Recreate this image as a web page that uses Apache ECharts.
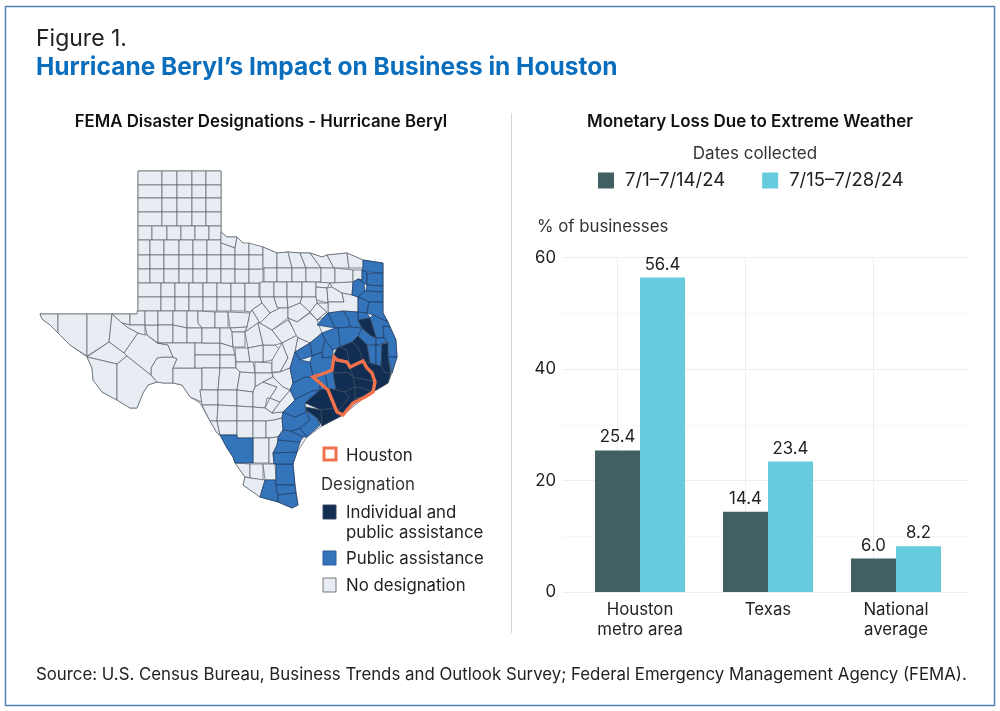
<!DOCTYPE html>
<html><head><meta charset="utf-8">
<style>html,body{margin:0;padding:0;background:#fff}#c{width:1000px;height:711px}</style>
<script src="https://cdn.jsdelivr.net/npm/echarts@6/dist/echarts.min.js"></script>
</head><body><div id="c"></div>
<script>
const FONT = 'Inter';
const LABEL = 16.8;
// ---------- bar chart data
const categories = ['Houston\nmetro area', 'Texas', 'National\naverage'];
const seriesNames = ['7/1–7/14/24', '7/15–7/28/24'];
const earlyJuly = [25.4, 14.4, 6.0];
const lateJuly = [56.4, 23.4, 8.2];
const yTicks = [0, 60, 20];
// ---------- map designation: county outlines (map units)
function cells(xs, ys) {
  const out = [];
  for (let j = 0; j < ys.length - 1; j++) for (let i = 0; i < xs.length - 1; i++)
    out.push(`${xs[i]},${ys[j]} ${xs[i+1]},${ys[j]} ${xs[i+1]},${ys[j+1]} ${xs[i]},${ys[j+1]}`);
  return out;
}
const stateOutline = '138,171 221,171 221,232 227,237 237,237 243,243 263,247 277,253 288,252 300,253 310,253 322,257 327,255 347,253 363,260 383,263 383,313 388,322 396,340 397,357 392,373 388,383 373,392 365,397 343,415 322,426 307,437 297,452 293,464 295,485 298,505 292,508 278,502 260,497 243,485 245,477 235,463 233,457 227,448 220,435 217,433 210,421 200,403 190,397 182,385 173,383 163,383 157,382 148,385 143,393 137,408 130,408 117,400 102,392 93,380 92,368 87,357 70,345 58,333 50,325 42,319 40,314 137,314 138,311';
const noDesignation = [
  ...cells([138,162,177,192,206,221],[171,185,198,212,226]),
  ...cells([138,152,167,181,195,209,221],[226,240]),
  ...cells([138,150,164,179,193,207,221],[240,255,269,283]),
  ...cells([138,161,175,189,203,217,231,245,259],[283,297]),
  ...cells([138,161,175,189,203,217,231,245],[297,311]),
  // Red River counties
  '221,232 227,237 237,237 235,248 221,243','221,243 235,248 235,255 221,255','221,255 235,255 235,269 221,269',
  '221,269 235,269 235,283 221,283','235,269 249,269 249,283 235,283','249,269 263,269 263,283 249,283',
  '237,237 243,243 249,243 249,255 235,255 235,248','249,243 263,247 263,255 249,255',
  '235,255 249,255 249,269 235,269','249,255 263,255 263,269 249,269',
  '263,247 277,253 277,268 263,268','277,253 288,252 292,268 277,268','288,252 300,253 306,268 292,268',
  '300,253 310,253 321,268 306,268','310,253 322,257 327,255 334,268 321,268','327,255 347,253 349,268 334,268','347,253 363,260 363,268 349,268',
  ...cells([264,277,292,306,321],[268,282]),
  ...cells([260,274,287,302,316],[282,297]),
  '321,268 335,268 335,283 321,283','335,268 353,270 353,282 335,283','353,270 362,270 362,280 358,279 353,282',
  '316,282 330,283 327,288 316,287','316,287 327,288 328,303 316,300','327,288 332,287 342,293 344,302 328,302',
  '330,283 353,282 352,295 342,293 332,287','344,302 342,293 352,295 358,297 358,312 343,311 328,313 328,302',
  // West Texas
  '40,314 58,314 58,333 57,333 50,325 42,319','58,314 87,314 87,356 70,345 58,333','87,314 112,314 109,342 87,356',
  '112,314 127,327 138,333 124,353 109,342','109,342 124,353 127,356 117,364 87,357','87,357 117,364 117,400 102,392 93,380 92,368',
  '117,364 127,356 151,375 157,382 148,385 143,393 137,408 130,408 117,400',
  '151,368 157,358 163,357 173,357 177,359 173,368 173,383 163,383 157,382 151,375',
  '138,333 147,335 157,343 168,345 173,357 163,357 157,358 151,368 151,375 127,356 124,353',
  '173,368 202,368 202,402 190,397 182,385 173,383','112,314 130,314 130,325 122,323','130,314 137,314 137,311 145,311 145,325 130,325',
  '122,323 130,325 145,325 145,335 138,333 127,327','145,325 158,325 158,343 147,335',
  '145,311 158,311 158,325 145,325','158,311 173,311 173,325 158,325','173,311 187,311 187,328 173,325',
  '187,311 198,311 198,323 202,328 187,328','198,311 215,312 215,328 202,328 198,323',
  '158,325 173,325 173,343 158,343','173,325 187,328 187,343 173,343','187,328 202,328 202,343 187,343',
  '158,343 195,343 195,368 173,368 177,359 173,357 168,345',
  '195,343 220,343 220,355 195,355','195,355 220,355 220,368 195,368',
  // Central Texas
  '215,312 228,312 228,328 215,328','202,328 220,328 220,343 202,343',
  '228,312 250,313 247,327 230,328','230,328 247,327 245,332 232,332','250,313 252,310 260,323 258,323 245,332 247,327',
  '220,328 230,328 232,332 233,347 220,343','220,343 233,347 235,355 220,355','220,355 235,355 236,368 220,368',
  '232,332 245,332 245,347 233,347','235,348 248,348 250,362 236,362','245,332 258,323 262,340 263,345 248,348',
  '263,345 275,345 280,350 272,360 263,362','248,348 263,345 263,362 250,362','236,362 253,362 255,373 240,372 236,368',
  '255,362 272,363 272,373 255,373','272,360 282,343 288,358 280,372 272,372','282,343 297,335 298,337 295,352 290,368 280,372 288,358',
  '258,323 260,323 272,330 282,343 275,345 263,345 262,340','272,373 280,372 290,368 293,383 290,390 283,387 273,377',
  '255,373 272,373 273,377 263,382 255,387','297,337 310,343 295,352 298,337',
  '245,297 260,297 262,303 252,310 250,312 245,311','260,297 274,297 277,307 280,308 270,313 262,303',
  '274,297 287,297 288,308 280,308 277,307','287,297 302,297 300,303 288,308','302,297 316,297 317,303 310,312 300,303',
  '252,310 262,303 270,313 260,323','270,313 280,308 288,308 288,318 272,330 260,323','288,308 300,303 310,312 297,322 288,318',
  '272,330 288,320 297,335 282,343','288,318 297,322 310,313 317,320 322,333 310,343 297,337',
  '310,312 317,303 327,312 317,320','317,303 328,303 328,313 323,318 317,320 327,312',
  '202,368 220,368 218,390 200,390 202,402','220,368 236,368 240,372 237,390 218,390','240,372 255,373 255,387 253,392 237,390',
  '200,390 218,390 218,405 202,405','218,390 237,390 237,406 218,405','237,390 253,392 253,407 237,406',
  '202,405 218,405 217,421 210,421','218,405 237,406 237,421 217,421','237,406 253,407 253,421 237,421',
  '210,421 217,421 220,435 217,433','217,421 237,421 237,435 220,435','237,421 253,421 253,438 237,438',
  '253,392 255,387 263,382 277,387 270,398 267,398 265,408 253,407','270,398 280,402 272,413 265,408',
  '272,413 283,412 282,418 274,420 266,421 253,421 253,407 265,408','280,402 290,390 295,400 283,412 272,413',
  '263,382 273,377 283,387 290,390 280,402 270,398 277,387',
  '253,421 266,421 266,438 253,438','266,421 274,420 282,418 283,430 278,437 266,438',
  '253,438 269,438 269,463 253,463','269,438 278,437 277,445 273,453 274,464 269,463',
  '235,463 250,464 250,478 245,477','250,464 263,464 263,480 250,478','263,464 275,464 276,480 265,480',
  '245,477 250,478 265,480 260,497 243,485'
];
const publicAssistance = [
  '220,435 237,435 237,438 253,438 253,463 235,463 233,457 227,448',
  '265,480 276,480 278,502 260,497','276,464 293,464 295,485 276,485','276,485 295,485 296,493 278,495','278,495 296,493 298,505 292,508 278,502',
  '273,453 297,452 293,464 274,464','278,440 300,442 297,452 273,453 277,445','278,437 283,430 291,431 303,437 300,442 278,440','291,431 300,428 307,437 303,437',
  '283,412 295,417 306,412 310,420 300,428 291,431 283,430 282,418','306,410 317,418 320,425 307,437 300,428 310,420',
  '283,412 297,398 312,391 320,390 305,403 306,412 295,417','293,383 305,377 313,377 320,385 320,390 312,391 297,398 295,400 290,390',
  '363,260 383,263 383,273 367,272 362,270 363,268','362,270 367,272 367,285 364,283 358,279 362,280','367,273 383,273 383,286 367,285','367,285 383,286 383,292 366,291',
  '353,282 358,279 364,283 365,291 358,297 352,295','366,291 383,292 383,302 369,302 365,300 358,297 365,291','358,297 365,300 369,302 367,313 358,312',
  '369,302 383,302 383,313 388,322 373,315 367,313','358,312 367,313 370,318 358,320',
  '343,311 358,312 358,320 362,328 350,327 348,318','323,318 328,313 335,328 317,325','328,313 343,311 348,318 350,327 338,328 335,328',
  '370,318 373,315 388,322 390,327 383,326 384,338 376,338 373,328','383,326 390,327 396,340 397,357 388,357 387,342 384,338',
  '362,328 370,335 376,338 376,345 367,345 358,336','350,327 362,328 358,336 352,342 340,347 338,328','376,338 384,338 387,342 382,344 376,345',
  '388,357 397,357 392,373 391,373','322,333 335,328 338,328 340,347 333,350 325,340','310,343 322,333 325,340 322,352 312,356','295,352 310,343 312,356 300,360',
  '325,340 333,350 333,357 322,358 322,352','312,356 322,352 322,358 333,357 332,370 325,373 313,377 310,362',
  '290,368 295,352 300,360 310,362 313,377 305,377 293,383','313,377 325,373 328,388 320,390 320,385',
  '325,373 332,370 333,372 336,390 328,388','367,346 376,345 376,365 370,363','376,345 382,345 381,366 376,365'
];
const individualPublic = [
  '358,320 370,318 373,328 376,338 370,335 362,328',
  '305,403 320,390 328,388 335,408 321,410','306,407 321,410 322,426 317,418 306,410','321,410 335,408 343,415 322,426',
  '333,357 337,348 340,347 347,350 350,367 347,362 337,360','340,347 352,342 358,347 363,361 350,367 347,350','352,342 358,336 367,345 370,363 363,361 358,347',
  '333,357 337,360 347,362 350,367 353,377 347,372 340,373 333,372','350,367 363,361 367,368 372,373 375,382 367,380 353,377',
  '333,372 340,373 347,372 353,377 355,387 345,392 336,390','353,377 367,380 375,382 373,392 362,388 355,387','355,387 362,388 373,392 365,397 355,398',
  '328,388 336,390 345,392 349,398 337,412 335,408','345,392 355,387 355,398 353,403 343,415 337,412 349,398','355,398 365,397 353,403',
  '382,344 388,343 388,357 391,373 385,373 381,366','363,361 370,363 381,366 385,373 391,373 388,383 373,392 375,382 372,373 367,368'
];
const houstonOutline = '334,357 337,360 347,362 350,367 363,361 367,368 372,373 375,382 373,392 365,397 353,403 343,415 337,412 328,390 313,377 325,373 332,370';

const designationStyle = [
  {fill:'#e8edf3', line:'#5a5f66', list:noDesignation},
  {fill:'#3374ba', line:'#1d3a63', list:publicAssistance},
  {fill:'#122d52', line:'#39475c', list:individualPublic}
];
const features = [], mapData = [];
const parse = s => s.split(' ').map(p => { const [x,y] = p.split(',').map(Number); return [x,-y]; });
function addFeature(name, str, itemStyle, value) {
  const ring = parse(str); ring.push(ring[0]);
  features.push({type:'Feature', properties:{name}, geometry:{type:'Polygon', coordinates:[ring]}});
  mapData.push({name, value, itemStyle});
}
addFeature('Texas', stateOutline, {areaColor:'#e8edf3', borderColor:'#5a5f66', borderWidth:0.7}, 0);
designationStyle.forEach((d,k) => d.list.forEach((s,i) => addFeature(`c${k}_${i}`, s, {areaColor:d.fill, borderColor:d.line, borderWidth:0.7}, k)));
addFeature('Houston', houstonOutline, {areaColor:'rgba(0,0,0,0)', borderColor:'#f0714c', borderWidth:3.4}, 3);
echarts.registerMap('texas', {type:'FeatureCollection', features});
let allPts = features.flatMap(f => f.geometry.coordinates[0]);
const minX = Math.min(...allPts.map(p=>p[0])), maxX = Math.max(...allPts.map(p=>p[0]));
const minY = Math.min(...allPts.map(p=>-p[1])), maxY = Math.max(...allPts.map(p=>-p[1]));

const txt = (x,y,text,extra={}) => ({type:'text', x, y, silent:true, style:Object.assign({text, fill:'#222', font:`${LABEL}px ${FONT}`, textVerticalAlign:'middle'}, extra)});
const box = (x,y,w,h,fill,stroke,lw=1) => ({type:'rect', silent:true, shape:{x,y,width:w,height:h}, style:{fill,stroke,lineWidth:lw}});

const chart = echarts.init(document.getElementById('c'), null, {renderer:'canvas'});
chart.setOption({
  animation:false,
  textStyle:{fontFamily:FONT},
  title:[
    {text:'Figure 1.', left:36, top:27.5, padding:0, textStyle:{fontFamily:FONT, fontWeight:400, fontSize:23, color:'#222'}},
    {text:'Hurricane Beryl’s Impact on Business in Houston', left:36, top:55, padding:0, textStyle:{fontFamily:FONT, fontWeight:700, fontSize:24.5, color:'#0a6ebd'}},
    {text:'FEMA Disaster Designations - Hurricane Beryl', left:261, textAlign:'center', top:113, padding:0, textStyle:{fontFamily:FONT, fontWeight:600, fontSize:16.8, color:'#111'}},
    {text:'Monetary Loss Due to Extreme Weather', left:750, textAlign:'center', top:113, padding:0, textStyle:{fontFamily:FONT, fontWeight:600, fontSize:17, color:'#111'}},
    {text:'Dates collected', left:755, textAlign:'center', top:145, padding:0, textStyle:{fontFamily:FONT, fontWeight:400, fontSize:17, color:'#333'}}
  ],
  legend:{top:171, left:598, padding:0, itemWidth:16, itemHeight:16, itemGap:37, icon:'rect', data:seriesNames, selectedMode:false,
    textStyle:{fontFamily:FONT, fontSize:18.5, color:'#222', padding:[1,0,0,6]}},
  grid:[
    {left:576, right:40, top:257.5, bottom:119},
    {left:563, right:32, top:257.5, bottom:119}
  ],
  xAxis:[
    {gridIndex:0, type:'category', data:categories, axisLine:{show:false}, axisTick:{show:false}, splitLine:{show:false},
     axisLabel:{color:'#222', fontSize:LABEL, fontFamily:FONT, lineHeight:20, margin:8}},
    {gridIndex:1, type:'value', show:false, min:0, max:1}
  ],
  yAxis:[
    {gridIndex:0, type:'value', min:yTicks[0], max:yTicks[1], interval:yTicks[2], axisLine:{show:false}, axisTick:{show:false}, splitLine:{show:false},
     axisLabel:{color:'#222', fontSize:LABEL, fontFamily:FONT, margin:20}},
    {gridIndex:1, type:'value', min:yTicks[0], max:yTicks[1], interval:yTicks[2], axisLine:{show:false}, axisTick:{show:false}, axisLabel:{show:false},
     splitLine:{show:true, lineStyle:{color:'#eeeeee', width:1}},
     minorTick:{show:false, splitNumber:2}, minorSplitLine:{show:true, lineStyle:{color:'#f6f6f6', width:1}}}
  ],
  series:[
    {name:seriesNames[0], type:'bar', xAxisIndex:0, yAxisIndex:0, data:earlyJuly, barWidth:45, barGap:'0%', itemStyle:{color:'#425f63'},
     label:{show:true, position:'top', distance:4.5, color:'#222', fontSize:LABEL, fontFamily:FONT, formatter:p=>p.value.toFixed(1)},
     markLine:{silent:true, symbol:'none', z:1, label:{show:false}, lineStyle:{color:'#eeeeee', width:1, type:'solid'}, data:categories.map(c=>({xAxis:c}))}},
    {name:seriesNames[1], type:'bar', xAxisIndex:0, yAxisIndex:0, data:lateJuly, barWidth:45, itemStyle:{color:'#66cbdc'},
     label:{show:true, position:'top', distance:4.5, color:'#222', fontSize:LABEL, fontFamily:FONT, formatter:p=>p.value.toFixed(1)}},
    {type:'map', map:'texas', aspectScale:1, left:minX, top:minY, width:maxX-minX, height:maxY-minY, silent:true, selectedMode:false, showLegendSymbol:false,
     label:{show:false}, emphasis:{disabled:true}, data:mapData, z:3}
  ],
  graphic:[
    box(5.5,6.5,989,699,'none','#4f7fb0',1.5),
    {type:'line', silent:true, shape:{x1:511.5,y1:113,x2:511.5,y2:633}, style:{stroke:'#d4d4d4', lineWidth:1}},
    txt(537,226.5,'% of businesses',{fill:'#333'}),
    box(324,448,12,12,'#fff','#f0714c',3), txt(346,456,'Houston'),
    txt(321,485,'Designation',{fill:'#333'}),
    box(323,505,13,14,'#122d52','#3a4a60',1), txt(346,513,'Individual and'), txt(346,533,'public assistance'),
    box(323,551,13,14,'#3374ba','#2b5f9a',1), txt(346,559,'Public assistance'),
    box(323,578,13,14,'#e8edf3','#777',1), txt(346,586,'No designation'),
    txt(36,675,'Source: U.S. Census Bureau, Business Trends and Outlook Survey; Federal Emergency Management Agency (FEMA).',{font:`16.82px ${FONT}`})
  ]
});
</script></body></html>
